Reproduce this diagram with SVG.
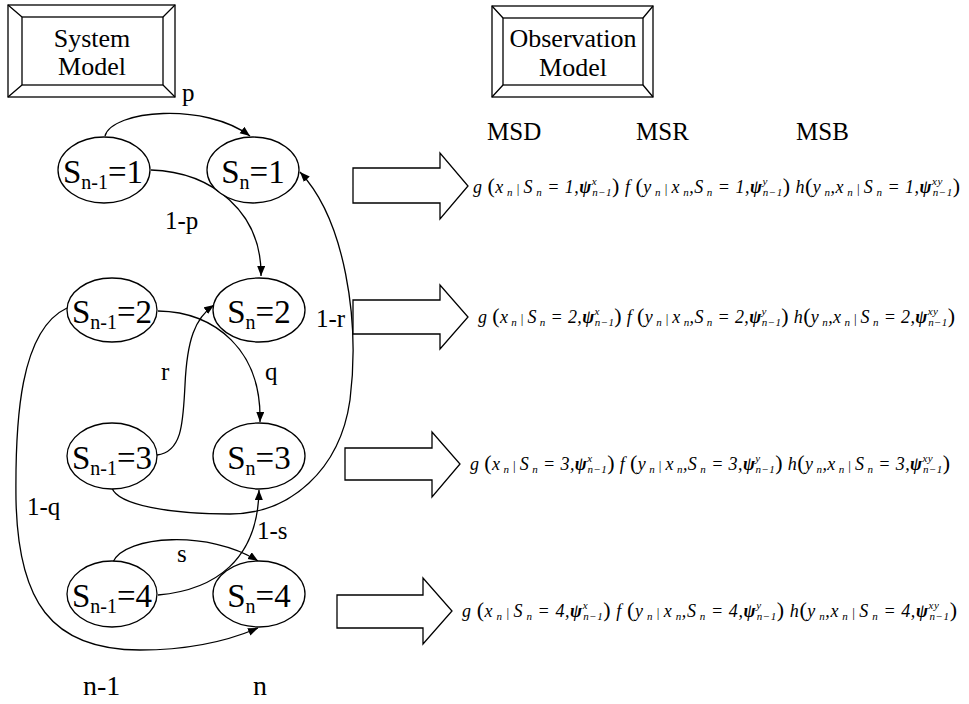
<svg xmlns="http://www.w3.org/2000/svg" width="969" height="704" viewBox="0 0 969 704">
<defs>
<style>
.ln{fill:none;stroke:#000;stroke-width:1.3}
.nd{fill:#fff;stroke:#000;stroke-width:1.3}
.bx{fill:#fff;stroke:#000;stroke-width:1.3}
.blk{fill:#fff;stroke:#000;stroke-width:1.3}
.t{fill:#000}
.nt{font-size:33px}
.sub{font-size:20px}
.lb{font-size:25px}
.bt{font-size:26px}
.fm{font-style:italic;font-size:18px;fill:#000}
.sb{font-size:11px}
.ps{font-weight:bold}
.bp{font-style:normal;font-size:22px}
.bar{font-style:normal;font-size:13px}
</style>
<marker id="ah" markerWidth="12" markerHeight="10" refX="10" refY="4" orient="auto" markerUnits="userSpaceOnUse"><path d="M0,0 L10,4 L0,8 Z" fill="#000"/></marker>
</defs>
<rect width="969" height="704" fill="#fff"/>
<g font-family="Liberation Serif, serif">

<g id="system-model">
<rect class="bx" x="8" y="5" width="167" height="92"/>
<rect class="bx" x="22" y="17" width="141" height="68"/>
<path class="ln" d="M8,5 L22,17 M175,5 L163,17 M8,97 L22,85 M175,97 L163,85"/>
<text class="t bt" x="92" y="47" text-anchor="middle">System</text>
<text class="t bt" x="92" y="75" text-anchor="middle">Model</text>
</g>

<g id="observation-model">
<rect class="bx" x="492" y="6" width="161" height="91"/>
<rect class="bx" x="503" y="18" width="140" height="67"/>
<path class="ln" d="M492,6 L503,18 M653,6 L643,18 M492,97 L503,85 M653,97 L643,85"/>
<text class="t bt" x="573" y="47" text-anchor="middle">Observation</text>
<text class="t bt" x="573" y="76" text-anchor="middle">Model</text>
</g>

<g id="headers">
<text class="t lb" x="487" y="140">MSD</text>
<text class="t lb" x="636" y="140">MSR</text>
<text class="t lb" x="796" y="140">MSB</text>
</g>

<g id="connectors">
<path class="ln" marker-end="url(#ah)" d="M105,136 C112,110 205,102 250,136"/>
<path class="ln" marker-end="url(#ah)" d="M151,170 C212,172 262,212 261,276"/>
<path class="ln" marker-end="url(#ah)" d="M112,488 C118,505 170,514 230,514 C290,514 340,470 350,400 C360,320 345,220 300,172"/>
<path class="ln" marker-end="url(#ah)" d="M157,455 C183,452 183,420 185,385 C187,340 195,318 214,305"/>
<path class="ln" marker-end="url(#ah)" d="M158,311 C215,312 262,350 260,422"/>
<path class="ln" marker-end="url(#ah)" d="M67,308 C20,330 15,420 16,500 C18,600 50,650 140,650 C190,650 230,640 258,628"/>
<path class="ln" marker-end="url(#ah)" d="M158,595 C215,590 258,560 259,490"/>
<path class="ln" marker-end="url(#ah)" d="M113,562 C125,535 210,530 258,561"/>
<text class="t lb" x="182" y="101">p</text>
<text class="t lb" x="165" y="229">1-p</text>
<text class="t lb" x="316" y="327">1-r</text>
<text class="t lb" x="161" y="380">r</text>
<text class="t lb" x="265" y="380">q</text>
<text class="t lb" x="27" y="515">1-q</text>
<text class="t lb" x="257" y="539">1-s</text>
<text class="t lb" x="177" y="562">s</text>
</g>

<g id="node-sn1-1"><ellipse class="nd" cx="104" cy="170" rx="46" ry="33"/><text class="t nt" x="103" y="183" text-anchor="middle">S<tspan class="sub" dy="6">n-1</tspan><tspan dy="-6">=1</tspan></text></g>
<g id="node-sn-1"><ellipse class="nd" cx="253" cy="170" rx="46" ry="33"/><text class="t nt" x="253" y="183" text-anchor="middle">S<tspan class="sub" dy="6">n</tspan><tspan dy="-6">=1</tspan></text></g>
<g id="node-sn1-2"><ellipse class="nd" cx="112" cy="310" rx="45" ry="32"/><text class="t nt" x="112" y="323" text-anchor="middle">S<tspan class="sub" dy="6">n-1</tspan><tspan dy="-6">=2</tspan></text></g>
<g id="node-sn-2"><ellipse class="nd" cx="259" cy="310" rx="46" ry="32"/><text class="t nt" x="259" y="323" text-anchor="middle">S<tspan class="sub" dy="6">n</tspan><tspan dy="-6">=2</tspan></text></g>
<g id="node-sn1-3"><ellipse class="nd" cx="112" cy="456" rx="45" ry="33"/><text class="t nt" x="112" y="469" text-anchor="middle">S<tspan class="sub" dy="6">n-1</tspan><tspan dy="-6">=3</tspan></text></g>
<g id="node-sn-3"><ellipse class="nd" cx="259" cy="456" rx="46" ry="33"/><text class="t nt" x="259" y="469" text-anchor="middle">S<tspan class="sub" dy="6">n</tspan><tspan dy="-6">=3</tspan></text></g>
<g id="node-sn1-4"><ellipse class="nd" cx="112" cy="594" rx="45" ry="33"/><text class="t nt" x="112" y="607" text-anchor="middle">S<tspan class="sub" dy="6">n-1</tspan><tspan dy="-6">=4</tspan></text></g>
<g id="node-sn-4"><ellipse class="nd" cx="259" cy="594" rx="46" ry="33"/><text class="t nt" x="259" y="607" text-anchor="middle">S<tspan class="sub" dy="6">n</tspan><tspan dy="-6">=4</tspan></text></g>

<g id="time-labels">
<text class="t" font-size="28" x="83" y="695">n-1</text>
<text class="t" font-size="28" x="253" y="695">n</text>
</g>

<g id="obs-row-1">
<path class="blk" d="M353,168 L440,168 L440,153 L468,186 L440,219 L440,203 L353,203 Z"/>
<text class="fm" x="473" y="193" textLength="487" lengthAdjust="spacing">g <tspan class="bp">(</tspan>x<tspan class="sb" dy="3"> n</tspan><tspan class="bar" dy="-3"> | </tspan>S<tspan class="sb" dy="3"> n</tspan><tspan dy="-3"> = 1,</tspan><tspan class="ps">ψ</tspan><tspan class="sb" dy="-8">x</tspan><tspan class="sb" dx="-5" dy="11">n−1</tspan><tspan class="bp" dy="-3">)</tspan> f <tspan class="bp">(</tspan>y<tspan class="sb" dy="3"> n</tspan><tspan class="bar" dy="-3"> | </tspan>x<tspan class="sb" dy="3"> n</tspan><tspan dy="-3">,</tspan>S<tspan class="sb" dy="3"> n</tspan><tspan dy="-3"> = 1,</tspan><tspan class="ps">ψ</tspan><tspan class="sb" dy="-8">y</tspan><tspan class="sb" dx="-5" dy="11">n−1</tspan><tspan class="bp" dy="-3">)</tspan>  h<tspan class="bp">(</tspan>y<tspan class="sb" dy="3"> n</tspan><tspan dy="-3">,</tspan>x<tspan class="sb" dy="3"> n</tspan><tspan class="bar" dy="-3"> | </tspan>S<tspan class="sb" dy="3"> n</tspan><tspan dy="-3"> = 1,</tspan><tspan class="ps">ψ</tspan><tspan class="sb" dy="-8">xy</tspan><tspan class="sb" dx="-10" dy="11">n−1</tspan><tspan class="bp" dy="-3">)</tspan></text>
</g>

<g id="obs-row-2">
<path class="blk" d="M353,300 L440,300 L440,285 L468,317 L440,349 L440,334 L353,334 Z"/>
<text class="fm" x="478" y="323" textLength="477" lengthAdjust="spacing">g <tspan class="bp">(</tspan>x<tspan class="sb" dy="3"> n</tspan><tspan class="bar" dy="-3"> | </tspan>S<tspan class="sb" dy="3"> n</tspan><tspan dy="-3"> = 2,</tspan><tspan class="ps">ψ</tspan><tspan class="sb" dy="-8">x</tspan><tspan class="sb" dx="-5" dy="11">n−1</tspan><tspan class="bp" dy="-3">)</tspan> f <tspan class="bp">(</tspan>y<tspan class="sb" dy="3"> n</tspan><tspan class="bar" dy="-3"> | </tspan>x<tspan class="sb" dy="3"> n</tspan><tspan dy="-3">,</tspan>S<tspan class="sb" dy="3"> n</tspan><tspan dy="-3"> = 2,</tspan><tspan class="ps">ψ</tspan><tspan class="sb" dy="-8">y</tspan><tspan class="sb" dx="-5" dy="11">n−1</tspan><tspan class="bp" dy="-3">)</tspan> h<tspan class="bp">(</tspan>y<tspan class="sb" dy="3"> n</tspan><tspan dy="-3">,</tspan>x<tspan class="sb" dy="3"> n</tspan><tspan class="bar" dy="-3"> | </tspan>S<tspan class="sb" dy="3"> n</tspan><tspan dy="-3"> = 2,</tspan><tspan class="ps">ψ</tspan><tspan class="sb" dy="-8">xy</tspan><tspan class="sb" dx="-10" dy="11">n−1</tspan><tspan class="bp" dy="-3">)</tspan></text>
</g>

<g id="obs-row-3">
<path class="blk" d="M345,448 L432,448 L432,432 L460,464 L432,497 L432,480 L345,480 Z"/>
<text class="fm" x="470" y="470" textLength="480" lengthAdjust="spacing">g <tspan class="bp">(</tspan>x<tspan class="sb" dy="3"> n</tspan><tspan class="bar" dy="-3"> | </tspan>S<tspan class="sb" dy="3"> n</tspan><tspan dy="-3"> = 3,</tspan><tspan class="ps">ψ</tspan><tspan class="sb" dy="-8">x</tspan><tspan class="sb" dx="-5" dy="11">n−1</tspan><tspan class="bp" dy="-3">)</tspan> f <tspan class="bp">(</tspan>y<tspan class="sb" dy="3"> n</tspan><tspan class="bar" dy="-3"> | </tspan>x<tspan class="sb" dy="3"> n</tspan><tspan dy="-3">,</tspan>S<tspan class="sb" dy="3"> n</tspan><tspan dy="-3"> = 3,</tspan><tspan class="ps">ψ</tspan><tspan class="sb" dy="-8">y</tspan><tspan class="sb" dx="-5" dy="11">n−1</tspan><tspan class="bp" dy="-3">)</tspan> h<tspan class="bp">(</tspan>y<tspan class="sb" dy="3"> n</tspan><tspan dy="-3">,</tspan>x<tspan class="sb" dy="3"> n</tspan><tspan class="bar" dy="-3"> | </tspan>S<tspan class="sb" dy="3"> n</tspan><tspan dy="-3"> = 3,</tspan><tspan class="ps">ψ</tspan><tspan class="sb" dy="-8">xy</tspan><tspan class="sb" dx="-10" dy="11">n−1</tspan><tspan class="bp" dy="-3">)</tspan></text>
</g>

<g id="obs-row-4">
<path class="blk" d="M337,595 L423,595 L423,578 L452,611 L423,644 L423,628 L337,628 Z"/>
<text class="fm" x="462" y="617" textLength="495" lengthAdjust="spacing">g <tspan class="bp">(</tspan>x<tspan class="sb" dy="3"> n</tspan><tspan class="bar" dy="-3"> | </tspan>S<tspan class="sb" dy="3"> n</tspan><tspan dy="-3"> = 4,</tspan><tspan class="ps">ψ</tspan><tspan class="sb" dy="-8">x</tspan><tspan class="sb" dx="-5" dy="11">n−1</tspan><tspan class="bp" dy="-3">)</tspan>   f <tspan class="bp">(</tspan>y<tspan class="sb" dy="3"> n</tspan><tspan class="bar" dy="-3"> | </tspan>x<tspan class="sb" dy="3"> n</tspan><tspan dy="-3">,</tspan>S<tspan class="sb" dy="3"> n</tspan><tspan dy="-3"> = 4,</tspan><tspan class="ps">ψ</tspan><tspan class="sb" dy="-8">y</tspan><tspan class="sb" dx="-5" dy="11">n−1</tspan><tspan class="bp" dy="-3">)</tspan>   h<tspan class="bp">(</tspan>y<tspan class="sb" dy="3"> n</tspan><tspan dy="-3">,</tspan>x<tspan class="sb" dy="3"> n</tspan><tspan class="bar" dy="-3"> | </tspan>S<tspan class="sb" dy="3"> n</tspan><tspan dy="-3"> = 4,</tspan><tspan class="ps">ψ</tspan><tspan class="sb" dy="-8">xy</tspan><tspan class="sb" dx="-10" dy="11">n−1</tspan><tspan class="bp" dy="-3">)</tspan></text>
</g>
</g>
</svg>
